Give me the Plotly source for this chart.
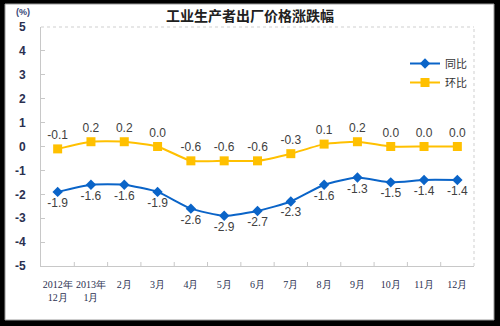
import plotly.graph_objects as go

# Monthly industrial producer price changes (%)
months = ["2012年<br>12月", "2013年<br>1月", "2月", "3月", "4月", "5月", "6月",
          "7月", "8月", "9月", "10月", "11月", "12月"]
yoy = [-1.9, -1.6, -1.6, -1.9, -2.6, -2.9, -2.7, -2.3, -1.6, -1.3, -1.5, -1.4, -1.4]
mom = [-0.1, 0.2, 0.2, 0.0, -0.6, -0.6, -0.6, -0.3, 0.1, 0.2, 0.0, 0.0, 0.0]
y_ticks = [5, 4, 3, 2, 1, 0, -1, -2, -3, -4, -5]

BLUE = "#0A64C8"
GOLD = "#FFC000"
LABEL = "#404040"
FONT = "Liberation Sans"

W, H = 500, 326
ML, MR, MT, MB = 41, 26, 27, 60
PW, PH = W - ML - MR, H - MT - MB


def px_x(p):
    return (p - ML) / PW


def px_y(p):
    return (H - MB - p) / PH


x = list(range(len(months)))

fig = go.Figure()
fig.add_trace(go.Scatter(
    x=x, y=yoy, name="同比", mode="lines+markers+text",
    line=dict(color=BLUE, width=2, shape="spline", smoothing=0.5),
    marker=dict(symbol="diamond", size=8, color=BLUE),
    text=[f"{v:.1f}" for v in yoy], textposition="bottom center",
    textfont=dict(family=FONT, size=12, color=LABEL),
    cliponaxis=False,
))
fig.add_trace(go.Scatter(
    x=x, y=mom, name="环比", mode="lines+markers+text",
    line=dict(color=GOLD, width=2, shape="spline", smoothing=0.5),
    marker=dict(symbol="square", size=9, color=GOLD),
    text=[f"{v:.1f}" for v in mom], textposition="top center",
    textfont=dict(family=FONT, size=12, color=LABEL),
    cliponaxis=False,
))

# black frame around a white card
fig.add_shape(type="rect", xref="paper", yref="paper", layer="below",
              x0=px_x(5), x1=px_x(494), y0=px_y(4), y1=px_y(320),
              fillcolor="white", line=dict(color="#9a9a9a", width=1))
# dotted top/right border of the plot area
fig.add_shape(type="line", xref="paper", yref="paper", x0=0, x1=1, y0=1, y1=1,
              line=dict(color="#cfcfcf", width=1, dash="dot"))
fig.add_shape(type="line", xref="paper", yref="paper", x0=1, x1=1, y0=0, y1=1,
              line=dict(color="#cfcfcf", width=1, dash="dot"))

fig.add_annotation(text="<b>工业生产者出厂价格涨跌幅</b>", xref="paper", yref="paper",
                   x=px_x(250), y=px_y(15), showarrow=False,
                   font=dict(family="Noto Sans CJK SC", size=14, color="#202020"),
                   xanchor="center", yanchor="middle")
fig.add_annotation(text="<b>(%)</b>", xref="paper", yref="paper",
                   x=px_x(23), y=px_y(12), showarrow=False,
                   font=dict(family=FONT, size=9, color="#3a4a7a"),
                   xanchor="center", yanchor="middle")

fig.update_layout(
    width=W, height=H,
    margin=dict(l=ML, r=MR, t=MT, b=MB),
    paper_bgcolor="black", plot_bgcolor="rgba(0,0,0,0)",
    showlegend=True,
    legend=dict(x=px_x(405), y=px_y(49), xanchor="left", yanchor="top",
                bgcolor="rgba(0,0,0,0)", font=dict(family="Noto Sans CJK SC", size=11, color="#333"),
                itemwidth=30, tracegroupgap=2),
    xaxis=dict(range=[-0.5, 12.5], tickmode="array", tickvals=x, ticktext=months,
               tickangle=0, ticklabelstandoff=9,
               showgrid=False, zeroline=False, showline=True, linecolor="#c8c8c8",
               ticks="", tickfont=dict(family="Liberation Serif", size=10, color="#2a3050"),
               fixedrange=True),
    yaxis=dict(range=[-5, 5], tickvals=y_ticks, ticktext=[f"<b>{v}</b>" for v in y_ticks],
               showgrid=False, zeroline=False, showline=True, linecolor="#c8c8c8",
               ticks="inside", ticklen=4, tickcolor="#c8c8c8",
               tickfont=dict(family=FONT, size=12, color="#2a3050"),
               ticklabelstandoff=12, fixedrange=True),
)

# category boundary ticks on the bottom axis
for b in range(1, 13):
    fig.add_shape(type="line", xref="x", yref="paper", x0=b - 0.5, x1=b - 0.5,
                  y0=0, y1=4 / PH, line=dict(color="#c8c8c8", width=1))

fig.write_html("out.html")
